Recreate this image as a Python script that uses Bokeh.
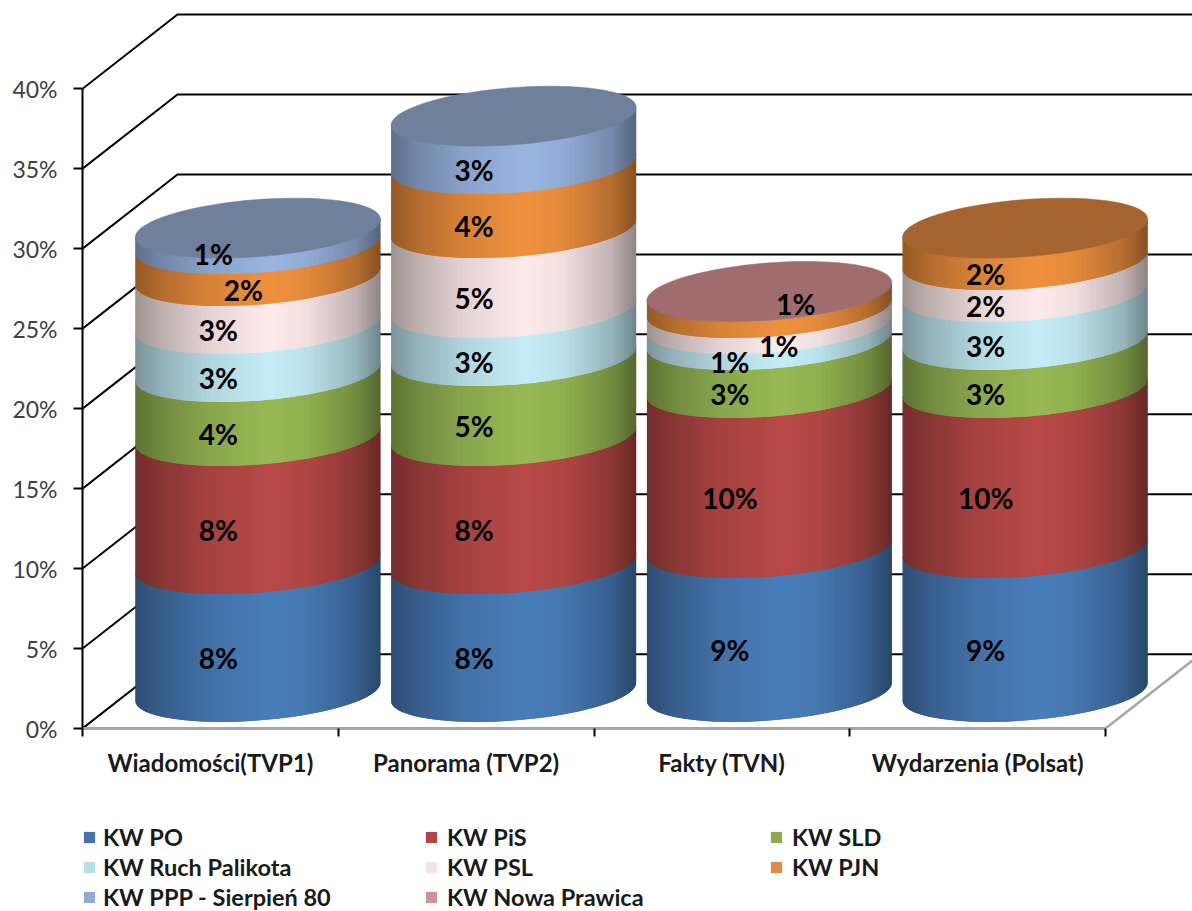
import numpy as np
from bokeh.core.properties import value
from bokeh.embed import file_html
from bokeh.layouts import column
from bokeh.models import (ColumnDataSource, FixedTicker, Legend, LegendItem, LinearAxis,
                          PrintfTickFormatter, Range1d)
from bokeh.plotting import figure
from bokeh.resources import INLINE

# Evening news programmes and the share of airtime per electoral committee (%)
programmes = ["Wiadomości(TVP1)", "Panorama (TVP2)", "Fakty (TVN)", "Wydarzenia (Polsat)"]
committees = ["KW PO", "KW PiS", "KW SLD", "KW Ruch Palikota", "KW PSL", "KW PJN",
              "KW PPP - Sierpień 80", "KW Nowa Prawica"]
kw_po = [8, 8, 9, 9]
kw_pis = [8, 8, 10, 10]
kw_sld = [4, 5, 3, 3]
kw_ruch = [3, 3, 1, 3]
kw_psl = [3, 5, 1, 2]
kw_pjn = [2, 4, 1, 2]
kw_ppp = [1, 3, 0, 0]
kw_nowa = [0, 0, 0.04, 0]
y_ticks = [0, 5, 10, 15, 20, 25, 30, 35, 40]

series = [kw_po, kw_pis, kw_sld, kw_ruch, kw_psl, kw_pjn, kw_ppp, kw_nowa]
side_colors = ["#4A7EBB", "#B84A48", "#98B954", "#C5EEF8", "#FFEBEB", "#F0913F", "#9AB5E2", "#C98F8F"]
top_colors = ["#3B6595", "#8E3B39", "#6D8A3C", "#8FB0B8", "#BCA8A8", "#A66530", "#6F809C", "#A06C6E"]
swatch_colors = ["#4674A9", "#AE4644", "#8DAA4F", "#B7DDE8", "#F5E3E3", "#E08A45", "#95A9D0", "#CF9393"]

# Scales: one category is 255.75 px wide, one percentage point is 16 px high
PX_X = 255.75
PX_Y = 16.0
DEPTH_X = 95 / PX_X
DEPTH_Y = 74.3 / PX_Y
CYL_SHIFT = 47.5 / PX_X           # cylinders stand halfway into the floor
BASE_LIFT = 36.6 / PX_Y
RX = 122.5 / PX_X
RY = 28.6 / PX_Y
TILT = 9.0 / PX_Y

p = figure(width=1192, height=783, output_backend="svg", toolbar_location=None,
           x_range=Range1d(0, 1110 / PX_X), y_range=Range1d(0, 728.3 / PX_Y),
           min_border_left=82, min_border_right=0, min_border_top=0, min_border_bottom=55,
           outline_line_color=None, x_axis_type=None, y_axis_type=None,
           background_fill_color="white", border_fill_color="white")
p.grid.visible = False

# Value axis
y_axis = LinearAxis(ticker=FixedTicker(ticks=y_ticks), bounds=(0, 40),
                    formatter=PrintfTickFormatter(format="%d%%"))
y_axis.axis_line_color = "black"
y_axis.axis_line_width = 2
y_axis.major_tick_line_color = "black"
y_axis.major_tick_line_width = 2
y_axis.major_tick_in = 0
y_axis.major_tick_out = 9
y_axis.minor_tick_line_color = None
y_axis.major_label_standoff = 16
y_axis.major_label_text_font = "Lato"
y_axis.major_label_text_font_size = "23px"
y_axis.major_label_text_color = "#404040"
p.add_layout(y_axis, "left")

# Category axis: labels in the middle of each slot, tick marks on the slot edges
n_cat = len(programmes)
x_axis = LinearAxis(ticker=FixedTicker(ticks=[i + 0.5 for i in range(n_cat)],
                                       minor_ticks=list(range(n_cat + 1))),
                    bounds=(0, n_cat),
                    major_label_overrides={i + 0.5: name for i, name in enumerate(programmes)})
x_axis.axis_line_color = "#A6A6A6"
x_axis.axis_line_width = 3
x_axis.major_tick_line_color = None
x_axis.major_tick_in = 0
x_axis.major_tick_out = 0
x_axis.minor_tick_line_color = "black"
x_axis.minor_tick_line_width = 2
x_axis.minor_tick_in = 0
x_axis.minor_tick_out = 8
x_axis.major_label_standoff = 11
x_axis.major_label_text_font = "Lato"
x_axis.major_label_text_font_style = "bold"
x_axis.major_label_text_font_size = "24px"
x_axis.major_label_text_color = "#1a1a1a"
p.add_layout(x_axis, "below")

# Back wall and side wall
x_end = 1110 / PX_X
wall_xs, wall_ys = [], []
for t in y_ticks:
    wall_xs.append([0, DEPTH_X, x_end])
    wall_ys.append([t, t + DEPTH_Y, t + DEPTH_Y])
p.multi_line(wall_xs, wall_ys, line_color="black", line_width=2)
# Floor edge on the right
p.line([n_cat, n_cat + DEPTH_X], [0, DEPTH_Y], line_color="#A6A6A6", line_width=2.5)


def shade(u):
    """Brightness across a cylinder, 0 = left edge, 1 = right edge."""
    return np.interp(u, [0, 0.1, 0.3, 0.55, 0.7, 0.9, 1.0],
                     [0.62, 0.74, 0.9, 1.0, 0.95, 0.76, 0.56])


def tint(color, m):
    r, g, b = (int(color[i:i + 2], 16) for i in (1, 3, 5))
    return "#%02x%02x%02x" % (int(r * m), int(g * m), int(b * m))


def front_curve(cx, level, t):
    return cx + RX * np.cos(t), level + BASE_LIFT + RY * np.sin(t) + TILT * np.cos(t)


STRIPS = 72
angles = np.linspace(np.pi, 2 * np.pi, STRIPS + 1)
BLEED = 0.1  # each band runs a little under the one above it

strip_xs, strip_ys, strip_colors = [], [], []
face_xs, face_ys, face_colors = [], [], []
label_x, label_y, label_text, label_dx, label_dy = [], [], [], [], []

# Labels moved by hand away from crowded spots: (category, series) -> px offset
label_nudges = {(0, 5): (25, 0), (0, 6): (-5, -12), (2, 4): (49, 0), (2, 5): (66, -26)}

for c in range(n_cat):
    cx = c + 0.5 + CYL_SHIFT
    base = 0.0
    top_series = 0
    for s, vals in enumerate(series):
        v = vals[c]
        if v <= 0:
            continue
        top_series = s
        lo_x, lo_y = front_curve(cx, base, angles)
        hi_x, hi_y = front_curve(cx, base + v + BLEED, angles)
        for k in range(STRIPS):
            # every strip reaches into the next one, which is painted over it
            e = min(k + 2, STRIPS)
            u = ((lo_x[k] + lo_x[k + 1]) / 2 - (cx - RX)) / (2 * RX)
            strip_xs.append([lo_x[k], lo_x[e], hi_x[e], hi_x[k]])
            strip_ys.append([lo_y[k], lo_y[e], hi_y[e], hi_y[k]])
            strip_colors.append(tint(side_colors[s], shade(u)))
        if v >= 0.5:
            dx, dy = label_nudges.get((c, s), (0, 0))
            label_x.append(cx - 39.5 / PX_X)
            label_y.append(base + v / 2 + BASE_LIFT - 30 / PX_Y)
            label_text.append(f"{v:.0f}%")
            label_dx.append(dx)
            label_dy.append(dy)
        base += v
    ring = np.linspace(0, 2 * np.pi, 121)
    fx, fy = front_curve(cx, base, ring)
    face_xs.append(fx.tolist())
    face_ys.append(fy.tolist())
    face_colors.append(top_colors[top_series])

p.patches(strip_xs, strip_ys, fill_color=strip_colors, line_color=None)
p.patches(face_xs, face_ys, fill_color=face_colors, line_color=face_colors, line_width=0.5)

labels = ColumnDataSource(dict(x=label_x, y=label_y, text=label_text, dx=label_dx, dy=label_dy))
p.text("x", "y", text="text", source=labels, x_offset="dx", y_offset="dy",
       text_align="center", text_baseline="middle", text_color="black",
       text_font=value("Lato"), text_font_size="28px", text_font_style="bold")

# Legend strip under the plot: three columns of committee names
key = figure(width=1192, height=128, output_backend="svg", toolbar_location=None,
             x_range=Range1d(0, 1), y_range=Range1d(0, 1),
             min_border=0, outline_line_color=None, x_axis_type=None, y_axis_type=None,
             background_fill_color="white", border_fill_color="white")
key.grid.visible = False
swatches = [key.quad(left=[np.nan], right=[np.nan], top=[np.nan], bottom=[np.nan],
                     fill_color=col, line_color=None) for col in swatch_colors]
for members, x0, y0, gap in [([0, 3, 6], 0, 0, 7), ([1, 4, 7], 342, 0, 9), ([2, 5], 687, 30, 9)]:
    items = [LegendItem(label=committees[m], renderers=[swatches[m]]) for m in members]
    key.add_layout(Legend(items=items, location=(x0, y0),
                          glyph_width=14, glyph_height=14, label_standoff=gap, spacing=1,
                          padding=0, margin=0, border_line_color=None, background_fill_alpha=0,
                          label_text_font="Lato", label_text_font_style="bold",
                          label_text_font_size="23.5px", label_text_color="#1a1a1a",
                          label_height=29))

page = column(p, key, spacing=0)
open("out.html", "w").write(file_html(page, INLINE))
